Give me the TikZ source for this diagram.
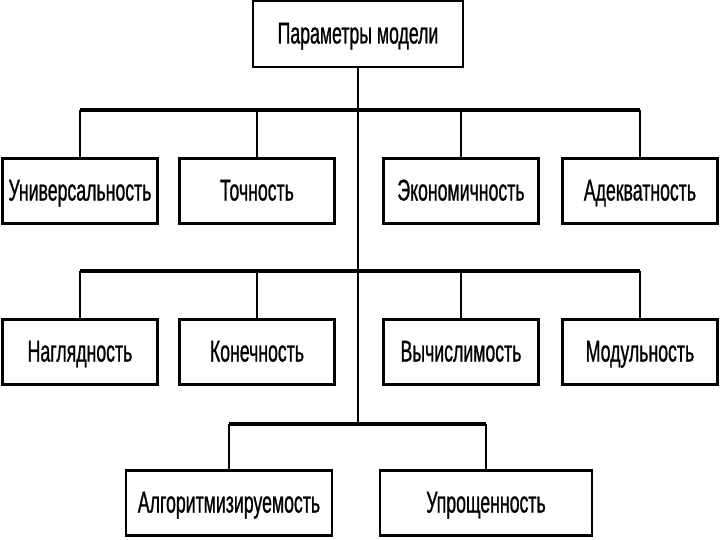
\documentclass[tikz,border=0pt]{standalone}
\usepackage{fontspec}
\setmainfont{Liberation Sans}[FakeStretch=0.59, FakeBold=0.8]

\begin{document}
\begin{tikzpicture}[x=1pt, y=-1pt, thick,
box/.style={rectangle, draw=black, line width=2.5pt, minimum width=155pt, minimum height=65pt, inner sep=0pt, text height=21pt, text depth=2pt, align=center, font=\fontsize{30}{32}\selectfont},
bar/.style={draw=black, line width=3.5pt},
link/.style={draw=black, line width=1.8pt}]
\useasboundingbox (0,0) rectangle (720,540);
\node[box, minimum width=210pt, minimum height=66pt] (top) at (358,34) {Параметры модели};
% first row
\node[box] (n1) at (80,191) {Универсальность};
\node[box] (n2) at (257,191) {Точность};
\node[box] (n3) at (461,191) {Экономичность};
\node[box] (n4) at (640,191) {Адекватность};
% second row
\node[box] (m1) at (80,352) {Наглядность};
\node[box] (m2) at (257,352) {Конечность};
\node[box] (m3) at (461,352) {Вычислимость};
\node[box] (m4) at (640,352) {Модульность};
% third row
\node[box, minimum width=206pt] (k1) at (229,503) {Алгоритмизируемость};
\node[box, minimum width=212pt] (k2) at (486,503) {Упрощенность};
\coordinate (t1) at (358,110);
\coordinate (t2) at (358,271);
\coordinate (t3) at (358,424);
\draw[link] (top.south) -- (t3);
\draw[bar] (n1.north |- t1) -- (n4.north |- t1);
\draw[bar] (m1.north |- t2) -- (m4.north |- t2);
\draw[bar] (k1.north |- t3) -- (k2.north |- t3);
\draw[link] (n1.north) -- (n1.north |- t1);
\draw[link] (n2.north) -- (n2.north |- t1);
\draw[link] (n3.north) -- (n3.north |- t1);
\draw[link] (n4.north) -- (n4.north |- t1);
\draw[link] (m1.north) -- (m1.north |- t2);
\draw[link] (m2.north) -- (m2.north |- t2);
\draw[link] (m3.north) -- (m3.north |- t2);
\draw[link] (m4.north) -- (m4.north |- t2);
\draw[link] (k1.north) -- (k1.north |- t3);
\draw[link] (k2.north) -- (k2.north |- t3);
\end{tikzpicture}
\end{document}
